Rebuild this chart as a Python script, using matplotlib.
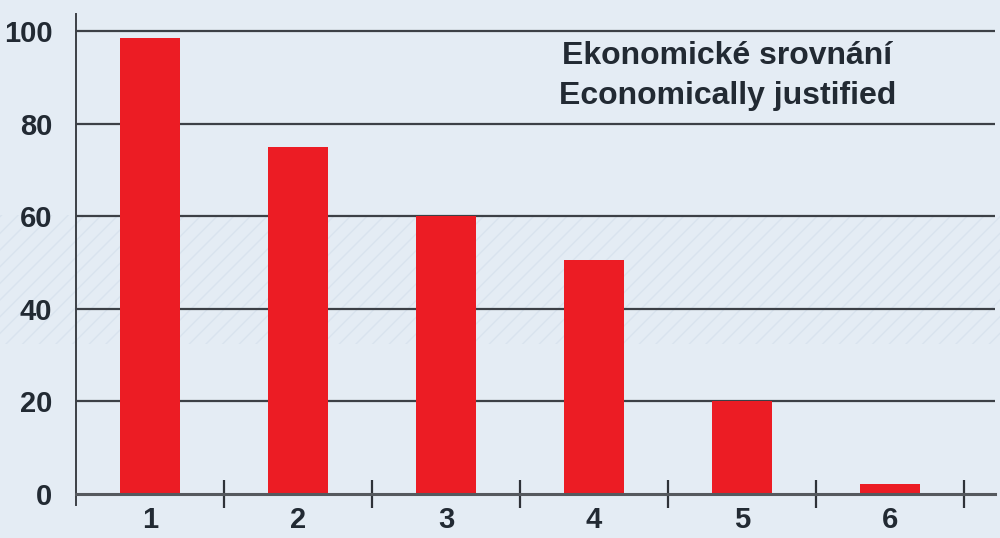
import matplotlib.pyplot as plt
from matplotlib.patches import Rectangle

categories = [1, 2, 3, 4, 5, 6]
values = [98.5, 75, 60, 50.5, 20, 2.2]
yticks = [0, 20, 40, 60, 80, 100]
title_lines = ['Ekonomické srovnání', 'Economically justified']

plt.rcParams['font.family'] = ['Liberation Sans', 'DejaVu Sans']

fig = plt.figure(figsize=(10, 5.38), dpi=100, facecolor='#e4ecf4')

# faint diagonal band in the background
band = Rectangle((0, 0.36), 1, 0.24, transform=fig.transFigure, facecolor='none',
                 edgecolor='#d9e3ee', hatch='//', linewidth=0, zorder=-1)
fig.patches.append(band)

ax = fig.add_axes([0.076, 0.0613, 0.919, 0.9126])
ax.patch.set_alpha(0)

ax.bar(categories, values, width=0.405, color='#ec1c24', zorder=3)

for y in yticks[1:]:
    ax.axhline(y, color='#3c4046', linewidth=1.6, zorder=2)

ax.set_xlim(0.5, 6.71)
ax.set_ylim(-2.4, 103.7)

ax.spines['top'].set_visible(False)
ax.spines['right'].set_visible(False)
ax.spines['bottom'].set_position(('data', 0))
ax.spines['bottom'].set_color('#55595e')
ax.spines['bottom'].set_linewidth(2.2)
ax.spines['bottom'].set_zorder(4)
ax.spines['left'].set_color('#3c4046')
ax.spines['left'].set_linewidth(1.4)

ax.set_yticks(yticks)
ax.set_yticklabels([str(v) for v in yticks], fontsize=21, fontweight='bold', color='#222a33')
ax.tick_params(axis='y', length=0, pad=17)

ax.set_xticks([c + 0.5 for c in categories])
ax.set_xticklabels([])
ax.set_xticks(categories, minor=True)
ax.set_xticklabels([str(c) for c in categories], minor=True, fontsize=21,
                   fontweight='bold', color='#222a33')
ax.tick_params(axis='x', which='major', direction='inout', length=20, width=1.6, color='#2e3238')
ax.tick_params(axis='x', which='minor', length=0, pad=9)

ax.text(4.9, 90.3, title_lines[0] + '\n' + title_lines[1], ha='center', va='center',
        fontsize=23, fontweight='bold', color='#222a33', linespacing=1.45)

plt.savefig('out.png', dpi=100, facecolor=fig.get_facecolor())
